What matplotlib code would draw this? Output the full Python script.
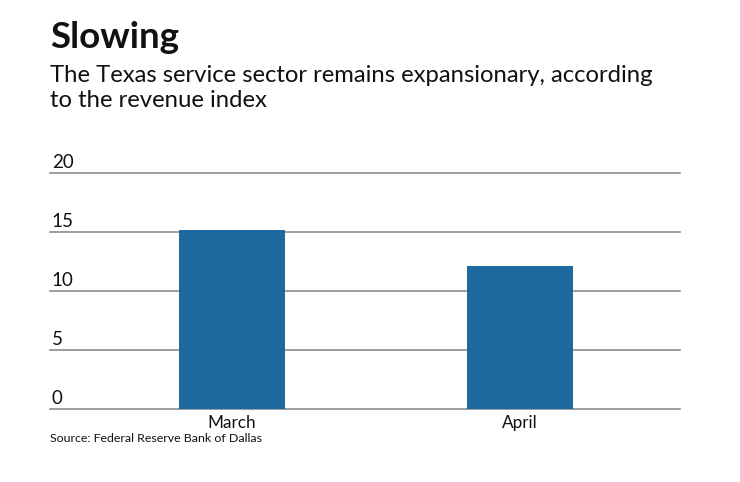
import matplotlib
matplotlib.use('Agg')
import matplotlib.pyplot as plt
import matplotlib.transforms as mtransforms

months = ['March', 'April']
revenue_index = [15.2, 12.1]
y_ticks = [0, 5, 10, 15, 20]

BAR_COLOR = '#1c699f'
GRID_COLOR = '#8c8c8c'

plt.rcParams['font.family'] = ['Lato', 'DejaVu Sans']

fig = plt.figure(figsize=(7.4, 4.82), dpi=100)
ax = fig.add_axes([50 / 740, 1 - 409 / 482, 630 / 740, (409 - 173) / 482])

x = range(len(months))
ax.bar(x, revenue_index, width=0.37, color=BAR_COLOR, zorder=3)

ax.set_xlim(-0.632, 1.556)
ax.set_ylim(0, 20)

for t in y_ticks:
    ax.axhline(t, color=GRID_COLOR, lw=1.2, zorder=1, clip_on=False)
    offs = mtransforms.offset_copy(ax.get_yaxis_transform(), fig=fig, x=0, y=1.5, units='points')
    ax.text(0.003, t, str(t), transform=offs, ha='left', va='bottom',
            fontsize=13.5, color='#111111')

for i, m in enumerate(months):
    ax.text(i, -1.15, m, ha='center', va='center', fontsize=12.3, color='#111111')

for s in ax.spines.values():
    s.set_visible(False)
ax.set_xticks([])
ax.set_yticks([])

fig.text(50 / 740, 1 - 21 / 482, 'Slowing', ha='left', va='top',
         fontsize=26.5, fontweight='bold', color='#111111')
fig.text(50 / 740, 1 - 65 / 482,
         'The Texas service sector remains expansionary, according\nto the revenue index',
         ha='left', va='top', fontsize=17.2, color='#111111', linespacing=1.22)
fig.text(50 / 740, 1 - 439 / 482, 'Source: Federal Reserve Bank of Dallas',
         ha='left', va='center', fontsize=8.9, color='#111111')

fig.savefig('out.png', dpi=100)
